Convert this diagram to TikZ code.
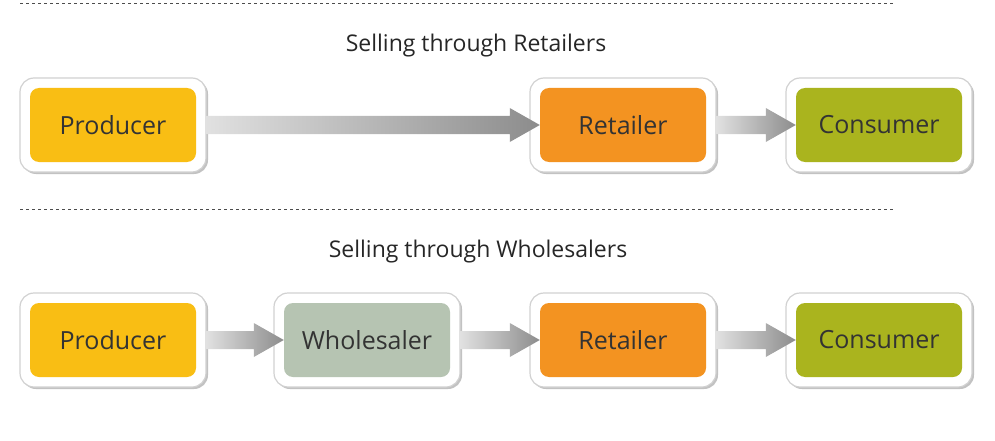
\documentclass[tikz,border=0pt]{standalone}
\usepackage{fontspec}
\setmainfont{Open Sans}
\usetikzlibrary{positioning,calc,shadows}
\definecolor{prodcol}{HTML}{F9BE14}
\definecolor{retcol}{HTML}{F39321}
\definecolor{conscol}{HTML}{AAB41E}
\definecolor{wholecol}{HTML}{B6C4B2}
\tikzset{
  frame/.style={draw=black!18, line width=1.2pt, fill=white, rounded corners=14pt,
    minimum width=186pt, minimum height=94pt,
    drop shadow={shadow xshift=2pt, shadow yshift=-2pt, fill=black!40, opacity=.6}},
  chain/.style={rounded corners=9pt, minimum width=166pt, minimum height=74pt,
    font=\fontsize{25}{30}\selectfont, text=black!80},
  title/.style={font=\fontsize{23}{28}\selectfont, text=black!85},
  sep/.style={dashed, black!70, line width=.9pt}
}
\newcommand{\flow}[2]{%
  \shade[left color=black!12, right color=black!45]
    ($(#1.east)+(0,-9pt)$) -- ($(#2.west)+(-30pt,-9pt)$) -- ($(#2.west)+(-30pt,-17pt)$)
    -- (#2.west) -- ($(#2.west)+(-30pt,17pt)$) -- ($(#2.west)+(-30pt,9pt)$)
    -- ($(#1.east)+(0,9pt)$) -- cycle;}
\begin{document}
\begin{tikzpicture}[x=1pt,y=-1pt]
\useasboundingbox (0,0) rectangle (995,441);
% separators and titles
\coordinate (sepA) at (20,3);
\coordinate (sepB) at (895,3);
\draw[sep] (sepA) -- (sepB);
\coordinate (sepC) at (20,209);
\coordinate (sepD) at (895,209);
\draw[sep] (sepC) -- (sepD);
\node[title] (t1) at (476,46) {Selling through Retailers};
\node[title] (t2) at (478,252) {Selling through Wholesalers};
% row one
\node[frame] (fp1) at (113,125) {};
\node[frame] (fr1) at (623,125) {};
\node[frame] (fc1) at (879,125) {};
\node[chain, fill=prodcol] (p1) at (fp1) {Producer};
\node[chain, fill=retcol] (r1) at (fr1) {Retailer};
\node[chain, fill=conscol] (c1) at (fc1) {Consumer};
\flow{fp1}{r1}
\flow{fr1}{c1}
% row two
\node[frame] (fp2) at (113,340) {};
\node[frame] (fw2) at (367,340) {};
\node[frame] (fr2) at (623,340) {};
\node[frame] (fc2) at (879,340) {};
\node[chain, fill=prodcol] (p2) at (fp2) {Producer};
\node[chain, fill=wholecol] (w2) at (fw2) {Wholesaler};
\node[chain, fill=retcol] (r2) at (fr2) {Retailer};
\node[chain, fill=conscol] (c2) at (fc2) {Consumer};
\flow{fp2}{w2}
\flow{fw2}{r2}
\flow{fr2}{c2}
\end{tikzpicture}
\end{document}
